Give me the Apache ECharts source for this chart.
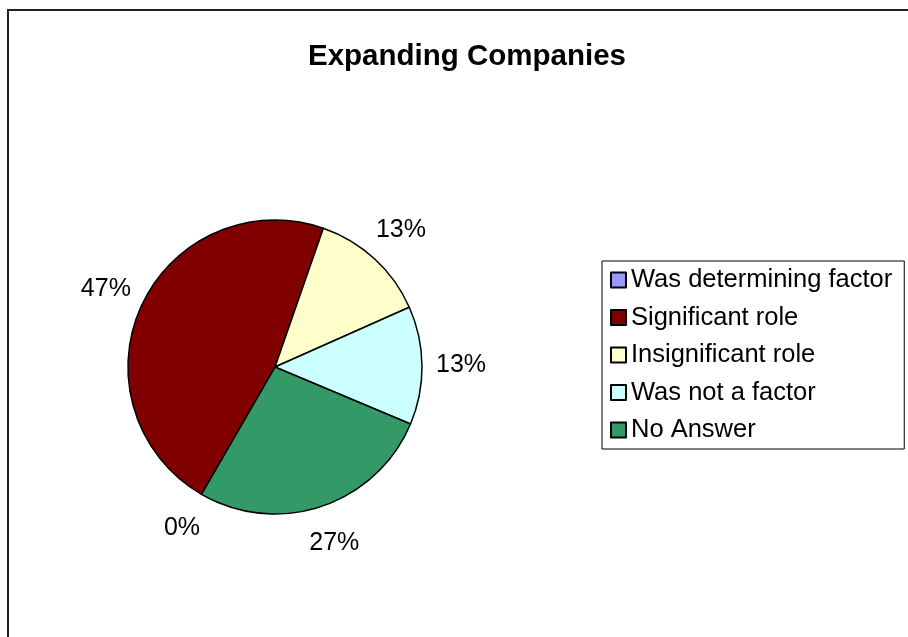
<!DOCTYPE html>
<html>
<head>
<meta charset="utf-8">
<title>Expanding Companies</title>
<script src="https://cdn.jsdelivr.net/npm/echarts@6/dist/echarts.min.js"></script>
<style>
  html, body { margin: 0; padding: 0; background: #fff; }
  #chart { width: 908px; height: 637px; }
</style>
</head>
<body>
<div id="chart"></div>
<script>
// Survey answers of expanding companies (share of responses, %)
const chartTitle = 'Expanding Companies';
const categories = [
  'Was determining factor',
  'Significant role',
  'Insignificant role',
  'Was not a factor',
  'No Answer'
];
const shares = [0, 47, 13, 13, 27];
const sliceColors = ['#9999FF', '#800000', '#FFFFCC', '#CCFFFF', '#339966'];

const FONT = 'Liberation Sans, Arial, sans-serif';

const pieData = categories.map((name, i) => ({
  name: name,
  value: shares[i],
  itemStyle: { color: sliceColors[i] }
}));

const chart = echarts.init(document.getElementById('chart'), null, { renderer: 'canvas' });

const CENTER = [275, 367];
const START = 240;

chart.setOption({
  backgroundColor: '#fff',
  animation: false,
  title: {
    text: chartTitle,
    left: 467,
    top: 42,
    textAlign: 'center',
    padding: 0,
    textStyle: { fontFamily: FONT, fontSize: 29.5, fontWeight: 'bold', color: '#000' }
  },
  legend: {
    orient: 'vertical',
    left: 602,
    top: 261,
    padding: [4, 12, 4, 8],
    itemGap: 7.5,
    itemWidth: 15,
    itemHeight: 15,
    icon: 'rect',
    borderColor: '#000',
    borderWidth: 1,
    backgroundColor: '#fff',
    selectedMode: false,
    itemStyle: { borderColor: '#000', borderWidth: 2 },
    textStyle: { fontFamily: FONT, fontSize: 25.5, color: '#000', lineHeight: 30 },
    data: categories
  },
  graphic: [{
    type: 'rect',
    silent: true,
    z: -10,
    shape: { x: 8, y: 10, width: 1200, height: 1200 },
    style: { fill: 'none', stroke: '#222', lineWidth: 2 }
  }],
  series: [
    {
      name: 'slices',
      type: 'pie',
      center: CENTER,
      radius: 147,
      startAngle: START,
      clockwise: true,
      avoidLabelOverlap: false,
      label: { show: false },
      labelLine: { show: false },
      emphasis: { disabled: true },
      itemStyle: { borderColor: '#000', borderWidth: 1.5 },
      data: pieData
    },
    {
      // transparent ring that only carries the percentage labels outside the pie
      name: 'labels',
      type: 'pie',
      center: CENTER,
      radius: [173, 193],
      startAngle: START,
      clockwise: true,
      silent: true,
      avoidLabelOverlap: false,
      emphasis: { disabled: true },
      itemStyle: { color: 'rgba(0,0,0,0)', borderWidth: 0 },
      labelLine: { show: false },
      label: {
        show: true,
        position: 'inside',
        formatter: '{c}%',
        fontFamily: FONT,
        fontSize: 25,
        color: '#000'
      },
      data: categories.map((name, i) => ({ name: name, value: shares[i] }))
    }
  ]
});
</script>
</body>
</html>
